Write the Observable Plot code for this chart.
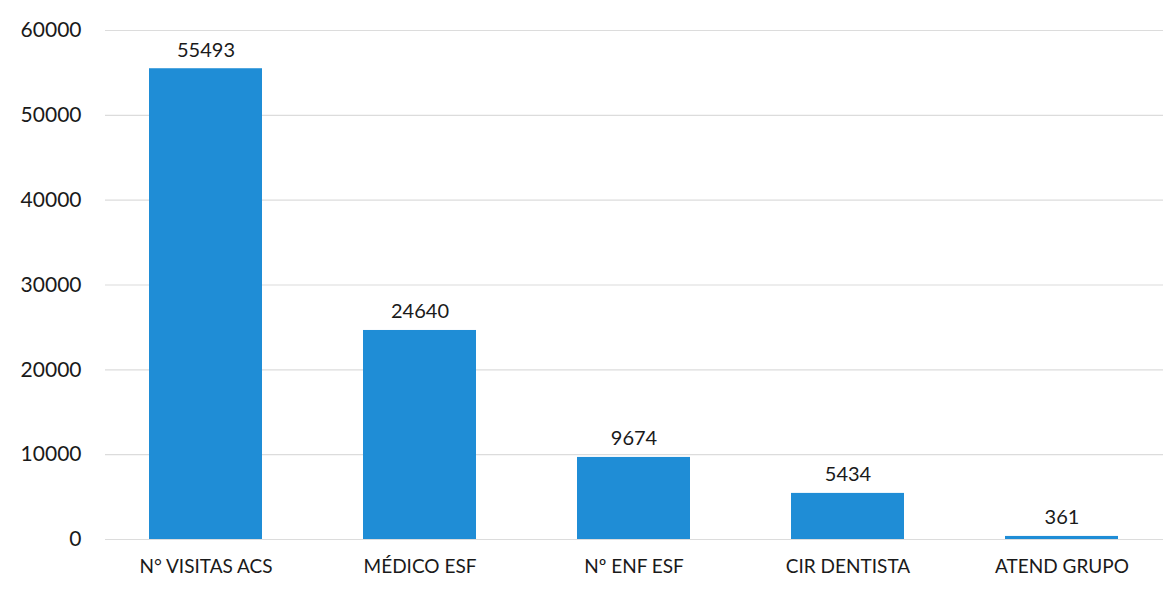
<!DOCTYPE html>
<html><head><meta charset="utf-8">
<script src="https://cdn.jsdelivr.net/npm/d3@7"></script>
<script src="https://cdn.jsdelivr.net/npm/@observablehq/plot@0.6"></script>
<style>
html,body{margin:0;padding:0;background:#fff;}
#chart svg{font-family:Lato,"Open Sans",sans-serif;}
</style></head>
<body><div id="chart"></div>
<script>
const categories = ["N° VISITAS ACS", "MÉDICO ESF", "Nº ENF ESF", "CIR DENTISTA", "ATEND GRUPO"];
const values = [55493, 24640, 9674, 5434, 361];
const yTicks = [0, 10000, 20000, 30000, 40000, 50000, 60000];

const data = categories.map((c, i) => ({category: c, value: values[i]}));

const chart = Plot.plot({
  width: 1163,
  height: 594,
  marginLeft: 105,
  marginRight: 0,
  marginTop: 30,
  marginBottom: 55,
  style: {fontFamily: "Lato, 'Open Sans', sans-serif", color: "#1a1a1a", background: "#fff"},
  x: {domain: categories, paddingInner: 0.47, paddingOuter: 0.2, label: null},
  y: {domain: [0, 60000], label: null},
  marks: [
    Plot.ruleY(yTicks, {stroke: "#dcdcdc", strokeWidth: 1.2}),
    Plot.barY(data, {x: "category", y: "value", fill: "#1f8dd6"}),
    Plot.text(data, {x: "category", y: "value", text: d => String(d.value), dy: -12, lineAnchor: "bottom", fontSize: 20, fill: "#1a1a1a"}),
    Plot.axisY({ticks: yTicks, tickSize: 0, tickPadding: 24, fontSize: 21, tickFormat: d => String(d), label: null}),
    Plot.axisX({tickSize: 0, tickPadding: 20, fontSize: 19, label: null})
  ]
});
document.getElementById("chart").appendChild(chart);
</script>
</body></html>
